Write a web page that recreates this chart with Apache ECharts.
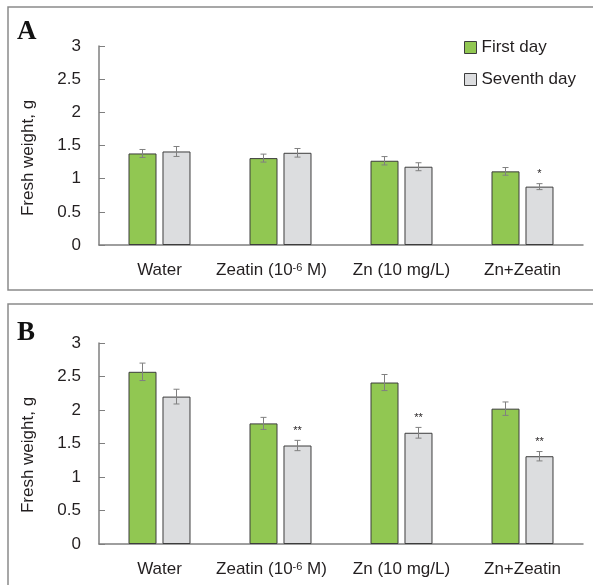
<!DOCTYPE html>
<html>
<head>
<meta charset="utf-8">
<script src="https://cdn.jsdelivr.net/npm/echarts@6/dist/echarts.min.js"></script>
<style>html,body{margin:0;padding:0;background:#fff}#c{width:593px;height:585px}</style>
</head>
<body>
<div id="c"></div>
<script>
var categories = ['Water', 'Zeatin (10-6 M)', 'Zn (10 mg/L)', 'Zn+Zeatin'];
var yTicks = [0, 0.5, 1, 1.5, 2, 2.5, 3];
var seriesNames = ['First day', 'Seventh day'];
// Panel A
var aFirst = [1.38, 1.31, 1.27, 1.11];
var aFirstErr = [0.06, 0.06, 0.063, 0.058];
var aSeventh = [1.41, 1.39, 1.18, 0.88];
var aSeventhErr = [0.075, 0.065, 0.06, 0.045];
var aSig = ['', '', '', '*'];
// Panel B
var bFirst = [2.57, 1.80, 2.41, 2.02];
var bFirstErr = [0.13, 0.09, 0.12, 0.10];
var bSeventh = [2.20, 1.47, 1.66, 1.31];
var bSeventhErr = [0.11, 0.077, 0.08, 0.07];
var bSig = ['', '**', '**', '**'];

var FONT = '"Liberation Sans", Arial, sans-serif';
var TXT = '#231f20';
var AX = '#7f7f7f';
var GREEN = '#91c752';
var GRAY = '#dcdddf';
var BW = 28, GAP = 6;

var chart = echarts.init(document.getElementById('c'), null, {renderer: 'canvas'});

function xAxisFor(gi) {
  return {
    type: 'category', gridIndex: gi, data: categories,
    axisLine: {lineStyle: {color: AX, width: 1.5}},
    axisTick: {inside: true, length: 6, lineStyle: {color: '#333', width: 1}},
    axisLabel: {
      interval: 0, hideOverlap: false,
      margin: 17, color: TXT, fontFamily: FONT, fontSize: 17,
      formatter: function (v) {
        if (v.indexOf('10-6') >= 0) {
          return '{n|' + v.replace('10-6', '10}{s|-6}{n|') + '}{p|}';
        }
        return '{n|' + v + '}';
      },
      rich: {
        n: {fontFamily: FONT, fontSize: 17, color: TXT},
        s: {fontFamily: FONT, fontSize: 11, color: TXT, verticalAlign: 'top'},
        p: {width: 18}
      }
    }
  };
}
function yAxisFor(gi) {
  return {
    type: 'value', gridIndex: gi, min: yTicks[0], max: yTicks[yTicks.length - 1], interval: 0.5,
    splitLine: {show: false},
    axisLine: {show: true, lineStyle: {color: AX, width: 1.5}},
    axisTick: {show: true, inside: true, length: 6, lineStyle: {color: AX}},
    axisLabel: {margin: 18, color: TXT, fontFamily: FONT, fontSize: 17}
  };
}
function barSeries(name, gi, data, color) {
  return {
    name: name, type: 'bar', xAxisIndex: gi, yAxisIndex: gi, data: data,
    barWidth: BW, barGap: (GAP / BW * 100).toFixed(1) + '%',
    itemStyle: {color: color, borderColor: '#3d3d3d', borderWidth: 1},
    emphasis: {disabled: true}, silent: true
  };
}
function errSeries(gi, vals, errs, sig, side) {
  var d = vals.map(function (v, i) { return [i, v, errs[i], sig[i]]; });
  return {
    type: 'custom', xAxisIndex: gi, yAxisIndex: gi, data: d, silent: true, z: 5,
    renderItem: function (params, api) {
      var ci = api.value(0), v = api.value(1), e = api.value(2);
      var s = d[params.dataIndex][3];
      var off = side * (BW / 2 + GAP / 2);
      var hi = api.coord([ci, v + e]);
      var lo = api.coord([ci, v - e]);
      var x = hi[0] + off;
      var cap = 3;
      var style = {stroke: '#808080', lineWidth: 1};
      var ch = [
        {type: 'line', shape: {x1: x, y1: hi[1], x2: x, y2: lo[1]}, style: style},
        {type: 'line', shape: {x1: x - cap, y1: hi[1], x2: x + cap, y2: hi[1]}, style: style},
        {type: 'line', shape: {x1: x - cap, y1: lo[1], x2: x + cap, y2: lo[1]}, style: style}
      ];
      if (s) {
        ch.push({type: 'text', style: {text: s, x: x, y: hi[1] - 4, fill: TXT,
          font: '11px ' + FONT, textAlign: 'center', textVerticalAlign: 'bottom'}});
      }
      return {type: 'group', children: ch};
    }
  };
}

var option = {
  animation: false,
  legend: {
    data: seriesNames, orient: 'vertical', left: 459, top: 34,
    itemWidth: 12, itemHeight: 12, itemGap: 15, selectedMode: false,
    icon: 'rect',
    textStyle: {fontFamily: FONT, fontSize: 17, color: TXT},
    itemStyle: {borderColor: '#3d3d3d', borderWidth: 1}
  },
  grid: [
    {left: 99, right: 10, top: 46, height: 199},
    {left: 99, right: 10, top: 343, height: 201}
  ],
  xAxis: [xAxisFor(0), xAxisFor(1)],
  yAxis: [yAxisFor(0), yAxisFor(1)],
  series: [
    barSeries(seriesNames[0], 0, aFirst, GREEN),
    barSeries(seriesNames[1], 0, aSeventh, GRAY),
    barSeries(seriesNames[0], 1, bFirst, GREEN),
    barSeries(seriesNames[1], 1, bSeventh, GRAY),
    errSeries(0, aFirst, aFirstErr, ['', '', '', ''], -1),
    errSeries(0, aSeventh, aSeventhErr, aSig, 1),
    errSeries(1, bFirst, bFirstErr, ['', '', '', ''], -1),
    errSeries(1, bSeventh, bSeventhErr, bSig, 1)
  ],
  graphic: [
    {type: 'rect', shape: {x: 8, y: 7, width: 600, height: 283}, style: {fill: 'none', stroke: '#8a8a8a', lineWidth: 1.5}, silent: true},
    {type: 'rect', shape: {x: 8, y: 304, width: 600, height: 300}, style: {fill: 'none', stroke: '#8a8a8a', lineWidth: 1.5}, silent: true},
    {type: 'text', left: 17, top: 19, style: {text: 'A', font: 'bold 27px "Liberation Serif", serif', fill: '#111'}},
    {type: 'text', left: 17, top: 320, style: {text: 'B', font: 'bold 27px "Liberation Serif", serif', fill: '#111'}},
    {type: 'text', x: 28, y: 158, rotation: Math.PI / 2,
      style: {text: 'Fresh weight, g', font: '17px ' + FONT, fill: TXT, textAlign: 'center', textVerticalAlign: 'middle'}},
    {type: 'text', x: 28, y: 455, rotation: Math.PI / 2,
      style: {text: 'Fresh weight, g', font: '17px ' + FONT, fill: TXT, textAlign: 'center', textVerticalAlign: 'middle'}}
  ]
};
chart.setOption(option);
</script>
</body>
</html>
